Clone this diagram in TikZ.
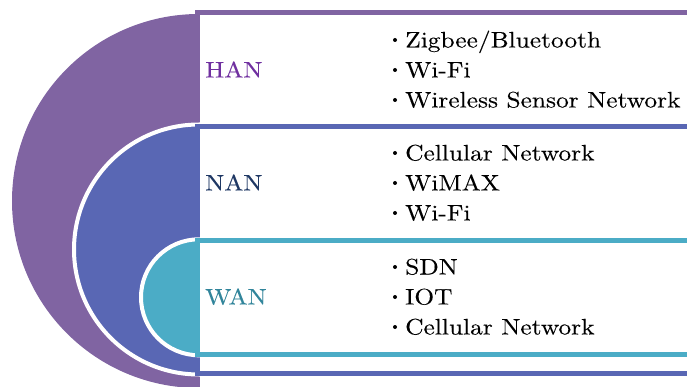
\documentclass[tikz,border=0pt]{standalone}
\usepackage{fontspec}
\setmainfont{lmroman10-regular.otf}[FakeStretch = 1.13, FakeBold = 0.15]

\definecolor{hanfill}{RGB}{128,100,162}
\definecolor{nanfill}{RGB}{89,103,180}
\definecolor{wanfill}{RGB}{75,172,198}
\definecolor{hantext}{RGB}{112,48,160}
\definecolor{nantext}{RGB}{31,56,100}
\definecolor{wantext}{RGB}{49,133,155}

\tikzset{
	disc/.style = {draw = white, line width = 4pt},
	frame/.style = {fill = white, line width = 5pt},
	tag/.style = {anchor = base west, inner sep = 0pt, font = \fontsize{22.5}{30}\selectfont},
	entry/.style = {anchor = base west, inner sep = 0pt, font = \fontsize{22.5}{30}\selectfont},
	dot/.style = {fill = black}
}

\begin{document}
\begin{tikzpicture}[x = 1pt, y = -1pt]

	\clip (0, 0) rectangle (687, 387);

	% Outer half disc and its frame (HAN)
	
	\fill [hanfill] (199, 201) ++ (0, -187) arc [start angle = 270, end angle = 90, radius = 187] -- cycle;
	\draw [frame, draw = hanfill] (197, 12.5) rectangle (720, 420);
	
	% Middle half disc and its frame (NAN)
	
	\filldraw [disc, fill = nanfill] (199, 249.5) ++ (0, -125) arc [start angle = 270, end angle = 90, radius = 125] -- cycle;
	\draw [frame, draw = nanfill] (197, 126.5) rectangle (720, 373);
	
	% Inner half disc and its frame (WAN)
	
	\filldraw [disc, fill = wanfill] (199, 297.3) ++ (0, -58) arc [start angle = 270, end angle = 90, radius = 58] -- cycle;
	\draw [frame, draw = wanfill] (197, 240) rectangle (720, 354.5);
	
	% Network names
	
	\node [tag, text = hantext] (han) at (205, 77.5) {HAN};
	\node [tag, text = nantext] (nan) at (205, 190.5) {NAN};
	\node [tag, text = wantext] (wan) at (205, 304.5) {WAN};
	
	% Technologies of each network, with a dot in front
	
	\foreach \tech [count = \i] in {Zigbee/Bluetooth, Wi-Fi, Wireless Sensor Network} {
		\node [entry] (han-\i) at (405, 17.5 + 30 * \i) {\tech};
		\fill [dot] (han-\i.base west) ++ (-10, -7.5) circle (2);
	}
	
	\foreach \tech [count = \i] in {Cellular Network, WiMAX, Wi-Fi} {
		\node [entry] (nan-\i) at (405, 130.5 + 30 * \i) {\tech};
		\fill [dot] (nan-\i.base west) ++ (-10, -7.5) circle (2);
	}
	
	\foreach \tech [count = \i] in {SDN, IOT, Cellular Network} {
		\node [entry] (wan-\i) at (405, 244.5 + 30 * \i) {\tech};
		\fill [dot] (wan-\i.base west) ++ (-10, -7.5) circle (2);
	}

\end{tikzpicture}
\end{document}
